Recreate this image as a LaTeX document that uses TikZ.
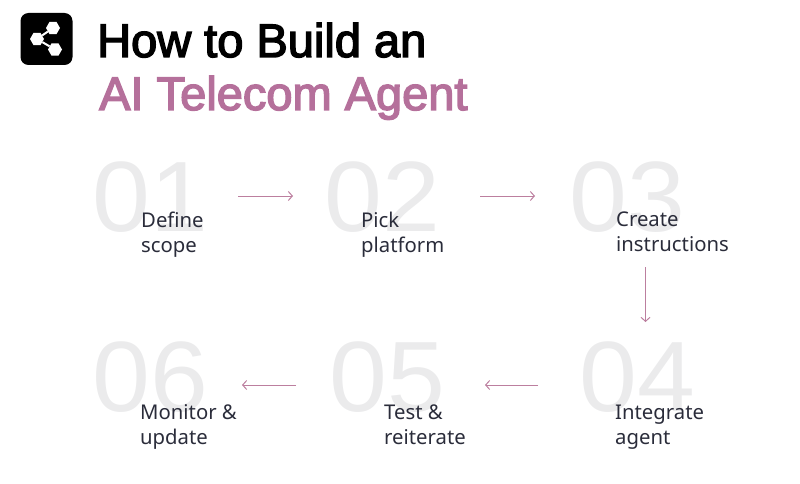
\documentclass[tikz,border=0pt]{standalone}
\usepackage{fontspec}
\usepackage{tikz}
\usetikzlibrary{shapes.geometric,arrows.meta}
\setmainfont{Liberation Sans}
\newfontfamily\titlefont[FakeBold=3]{Liberation Sans}
\newfontfamily\numfont[FakeStretch=1.04]{Liberation Sans}
\newfontfamily\labfont{Noto Sans}
\definecolor{pinkish}{HTML}{B5709B}
\definecolor{arrowpink}{HTML}{BC7F9F}
\definecolor{numgray}{HTML}{EBEBEC}
\definecolor{labdark}{HTML}{2A2C3A}
\tikzset{
	numstyle/.style={text=numgray,inner sep=0pt,anchor=west,font=\numfont\fontsize{100}{100}\selectfont},
	labstyle/.style={text=labdark,inner sep=0pt,anchor=north west,align=left,font=\labfont\fontsize{20.3}{25}\selectfont},
	titlestyle/.style={inner sep=0pt,anchor=base west,font=\titlefont\fontsize{47}{47}\selectfont},
	flow/.style={draw=arrowpink,line width=1pt,-{Straight Barb[length=4pt,width=9pt]}},
	hexnode/.style={regular polygon,regular polygon sides=6,fill=white,inner sep=0pt,minimum size=14pt},
}
\begin{document}
\begin{tikzpicture}[x=1pt,y=-1pt]
	\useasboundingbox (0,0) rectangle (800,484);
	% logo
	\node (logo) at (46.5,39) [fill=black,rounded corners=8pt,minimum width=52pt,minimum height=52pt,inner sep=0pt] {};
	\node (hexa) at (53,28) [hexnode] {}; \node (hexb) at (37,39) [hexnode] {}; \node (hexc) at (55,49.5) [hexnode] {};
	\draw[white,line width=2pt] (hexb) -- (hexa); \draw[white,line width=2pt] (hexb) -- (hexc);
	% title
	\node (titlea) at (97,57) [titlestyle,text=black] {How to Build an};
	\node (titleb) at (99,110) [titlestyle,text=pinkish] {AI Telecom Agent};
	% big numbers
	\node (numa) at (92,197) [numstyle] {01}; \node (numb) at (324,197) [numstyle] {02}; \node (numc) at (569,197) [numstyle] {03};
	\node (numd) at (579,377) [numstyle] {04}; \node (nume) at (329,377) [numstyle] {05}; \node (numf) at (92,377) [numstyle] {06};
	% labels
	\node (laba) at (141,212) [labstyle] {Define\\scope}; \node (labb) at (361,212) [labstyle] {Pick\\platform}; \node (labc) at (616,212) [labstyle] {Create\\instructions};
	\node (labd) at (615,404.5) [labstyle] {Integrate\\agent}; \node (labe) at (384,404.5) [labstyle] {Test \&\\reiterate}; \node (labf) at (140,404.5) [labstyle] {Monitor \&\\update};
	% arrows
	\coordinate (downa) at (645.5,267); \coordinate (downb) at (645.5,322);
	\coordinate (lefta) at (538,385); \coordinate (leftb) at (485,385);
	\coordinate (leftc) at (296,385); \coordinate (leftd) at (242,385);
	\coordinate (righta) at (238,196); \coordinate (rightb) at (293,196);
	\coordinate (rightc) at (480,196); \coordinate (rightd) at (535,196);
	\draw[flow] (righta) -- (rightb); \draw[flow] (rightc) -- (rightd); \draw[flow] (downa) -- (downb);
	\draw[flow] (lefta) -- (leftb); \draw[flow] (leftc) -- (leftd);
\end{tikzpicture}
\end{document}
